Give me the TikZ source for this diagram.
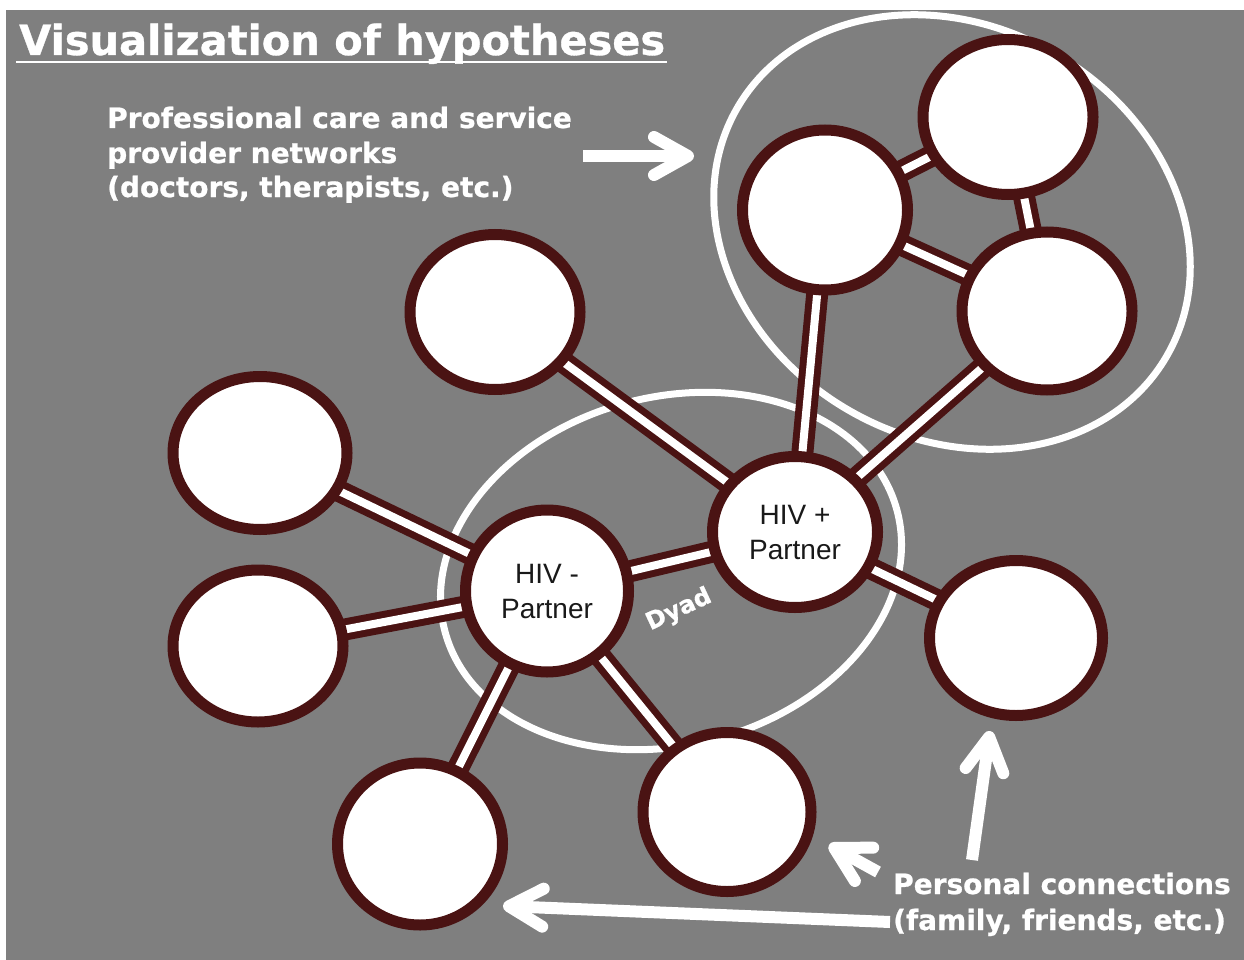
\documentclass[tikz,border=0pt]{standalone}
\usepackage{fontspec}
\setmainfont{Liberation Sans}
\newfontfamily\vfont{DejaVu Sans}[BoldFeatures={FakeBold=0.8}]
\usetikzlibrary{shapes.geometric,arrows.meta}
\definecolor{bggray}{HTML}{7F7F7F}
\definecolor{nodeline}{HTML}{4A1313}
\pgfdeclarelayer{under}
\pgfdeclarelayer{links}
\pgfsetlayers{under,links,main}
\tikzset{
  pnode/.style={ellipse, draw=nodeline, line width=11pt, fill=white, inner sep=0pt,
    align=center, text=black!90, font=\fontsize{28}{35}\selectfont},
  conn/.style={draw=nodeline, line width=7pt, double=white, double distance=8pt},
  ring/.style={ellipse, draw=white, line width=7pt, inner sep=0pt},
  warrow/.style={draw=white, line width=12pt, -{Straight Barb[length=34pt,width=38pt,round]}},
  wtext/.style={text=white, font=\vfont\bfseries\fontsize{28}{35}\selectfont, inner sep=0pt, anchor=base west},
  ttext/.style={text=white, font=\vfont\bfseries\fontsize{41.5}{42}\selectfont, inner sep=0pt, anchor=base west}
}
\begin{document}
\begin{tikzpicture}[x=1pt,y=-1pt]
\useasboundingbox (0,0) rectangle (1244,960);
\begin{pgfonlayer}{under}
  \fill[white] (0,0) rectangle (1244,960);
  \fill[bggray] (6,10) rectangle (1244,960);
  \node[ring, minimum width=468pt, minimum height=348pt, rotate=15] (dyadring) at (671,571) {};
  \node[ring, minimum width=496pt, minimum height=412pt, rotate=-30] (profring) at (952,232) {};
\end{pgfonlayer}

% title
\node[ttext] (title) at (19,55) {Visualization of hypotheses};
\draw[white, line width=2.5pt] (16,62) -- (667,62);

% labels
\node[wtext] (prof1) at (107,128) {Professional care and service};
\node[wtext] (prof2) at (107,163) {provider networks};
\node[wtext] (prof3) at (107,197) {(doctors, therapists, etc.)};
\node[wtext] (pers1) at (893,894) {Personal connections};
\node[wtext] (pers2) at (893,930) {(family, friends, etc.)};
\node[text=white, font=\vfont\bfseries\fontsize{24}{24}\selectfont, rotate=25, inner sep=0pt] (dyad) at (679,610) {Dyad};

% nodes
\node[pnode, minimum width=170pt, minimum height=155pt] (a) at (1008,117) {};
\node[pnode, minimum width=165pt, minimum height=160pt] (b) at (825,210) {};
\node[pnode, minimum width=170pt, minimum height=158pt] (c) at (1047,311) {};
\node[pnode, minimum width=170pt, minimum height=155pt] (d) at (495,312) {};
\node[pnode, minimum width=174pt, minimum height=153pt] (e) at (260,453) {};
\node[pnode, minimum width=170pt, minimum height=152pt] (f) at (258,646) {};
\node[pnode, minimum width=165pt, minimum height=162pt] (g) at (420,844) {};
\node[pnode, minimum width=168pt, minimum height=159pt] (h) at (727,812) {};
\node[pnode, minimum width=173pt, minimum height=155pt] (i) at (1016,638) {};
\node[pnode, minimum width=165pt, minimum height=151pt] (hivp) at (795,532) {HIV +\\Partner};
\node[pnode, minimum width=163pt, minimum height=162pt] (hivm) at (547,591) {HIV -\\Partner};

\begin{pgfonlayer}{links}
  \draw[conn] (hivp.center) -- (b.center);
  \draw[conn] (hivp.center) -- (c.center);
  \draw[conn] (hivp.center) -- (d.center);
  \draw[conn] (hivp.center) -- (i.center);
  \draw[conn] (hivp.center) -- (hivm.center);
  \draw[conn] (hivm.center) -- (e.center);
  \draw[conn] (hivm.center) -- (f.center);
  \draw[conn] (hivm.center) -- (g.center);
  \draw[conn] (hivm.center) -- (h.center);
  \draw[conn] (b.center) -- (a.center);
  \draw[conn] (a.center) -- (c.center);
  \draw[conn] (b.center) -- (c.center);
\end{pgfonlayer}

% arrows
\coordinate (a1s) at (583,156);
\coordinate (a1e) at (694,156);
\coordinate (a2s) at (972,860);
\coordinate (a2e) at (990,731);
\coordinate (a3s) at (878,872);
\coordinate (a3e) at (829,845);
\coordinate (a4s) at (890,922);
\coordinate (a4e) at (503,906);
\draw[warrow] (a1s) -- (a1e);
\draw[warrow] (a2s) -- (a2e);
\draw[warrow] (a3s) -- (a3e);
\draw[warrow] (a4s) -- (a4e);
\end{tikzpicture}
\end{document}
